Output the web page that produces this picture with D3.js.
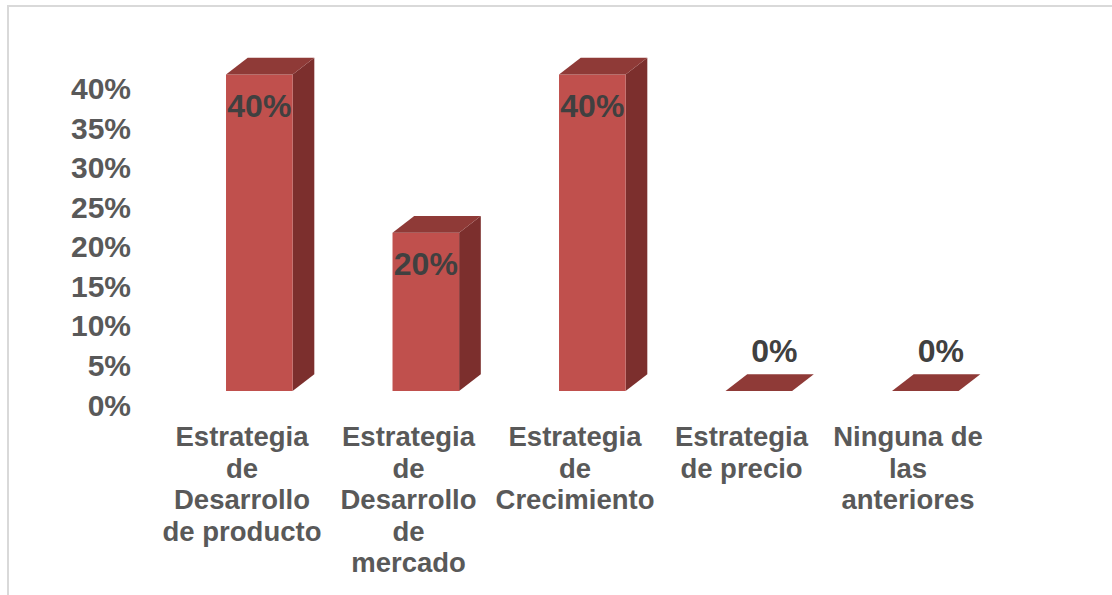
<!DOCTYPE html>
<html>
<head>
<meta charset="utf-8">
<script src="https://cdn.jsdelivr.net/npm/d3@7"></script>
<style>
  html, body { margin: 0; padding: 0; background: #fff; }
  svg { display: block; }
  text { font-family: "Liberation Sans", Arial, sans-serif; font-weight: bold; }
</style>
</head>
<body>
<svg id="chart" width="1112" height="595"></svg>
<script>
// Categories, split into the lines shown under each bar
const categories = [
  "Estrategia de Desarrollo de producto",
  "Estrategia de Desarrollo de mercado",
  "Estrategia de Crecimiento",
  "Estrategia de precio",
  "Ninguna de las anteriores"
];
const categoryLines = [
  ["Estrategia", "de", "Desarrollo", "de producto"],
  ["Estrategia", "de", "Desarrollo", "de", "mercado"],
  ["Estrategia", "de", "Crecimiento"],
  ["Estrategia", "de precio"],
  ["Ninguna de", "las", "anteriores"]
];
const values = [0.40, 0.20, 0.40, 0, 0];
const tickValues = [0, 0.05, 0.10, 0.15, 0.20, 0.25, 0.30, 0.35, 0.40];

const svg = d3.select("#chart");

// Outer frame (only the top and left edges fall inside the view)
svg.append("path")
  .attr("d", "M8,700 L8,6 L1200,6")
  .attr("fill", "none")
  .attr("stroke", "#d9d9d9")
  .attr("stroke-width", 2);

const x = d3.scaleBand().domain(categories).range([158.75, 991.25]).padding(0);
const y = d3.scaleLinear().domain([0, 0.40]).range([391, 74.5]);

const depthX = 21.7, depthY = -16.7;
const fmt = d3.format(".0%");

const colors = { front: "#c0504d", top: "#8f3a37", side: "#7c2f2d" };

// Y tick labels
svg.append("g").selectAll("text")
  .data(tickValues)
  .join("text")
  .attr("x", 131)
  .attr("y", d => y(d) + 24.5)
  .attr("text-anchor", "end")
  .attr("font-size", 30)
  .attr("fill", "#595959")
  .text(d => fmt(d));

// Bars drawn as simple 3D columns
const bw = x.bandwidth();
const bars = svg.append("g").selectAll("g")
  .data(categories.map((c, i) => ({ c, v: values[i] })))
  .join("g");

bars.each(function(d) {
  const g = d3.select(this);
  const x0 = x(d.c) + bw * 0.404;
  const x1 = x0 + bw * 0.4;
  const yt = y(d.v), yb = y(0);
  if (d.v > 0) {
    // side face
    g.append("path")
      .attr("d", `M${x1},${yt} L${x1 + depthX},${yt + depthY} L${x1 + depthX},${yb + depthY} L${x1},${yb} Z`)
      .attr("fill", colors.side);
    // front face
    g.append("rect")
      .attr("x", x0).attr("y", yt)
      .attr("width", x1 - x0).attr("height", yb - yt)
      .attr("fill", colors.front);
  }
  // top face
  g.append("path")
    .attr("d", `M${x0},${yt} L${x0 + depthX},${yt + depthY} L${x1 + depthX},${yt + depthY} L${x1},${yt} Z`)
    .attr("fill", colors.top);

  // value label
  const cx = (x0 + x1) / 2;
  g.append("text")
    .attr("x", d.v > 0 ? cx : cx + 15.5)
    .attr("y", d.v > 0 ? yt + 42 : yt - 29)
    .attr("text-anchor", "middle")
    .attr("font-size", 32)
    .attr("fill", "#404040")
    .text(fmt(d.v));
});

// Category labels
const labels = svg.append("g").selectAll("text")
  .data(categories)
  .join("text")
  .attr("text-anchor", "middle")
  .attr("font-size", 27.5)
  .attr("fill", "#595959")
  .attr("transform", d => `translate(${x(d) + bw / 2},446)`);

labels.selectAll("tspan")
  .data((d, i) => categoryLines[i])
  .join("tspan")
  .attr("x", 0)
  .attr("y", (t, j) => j * 31.5)
  .text(t => t);
</script>
</body>
</html>
